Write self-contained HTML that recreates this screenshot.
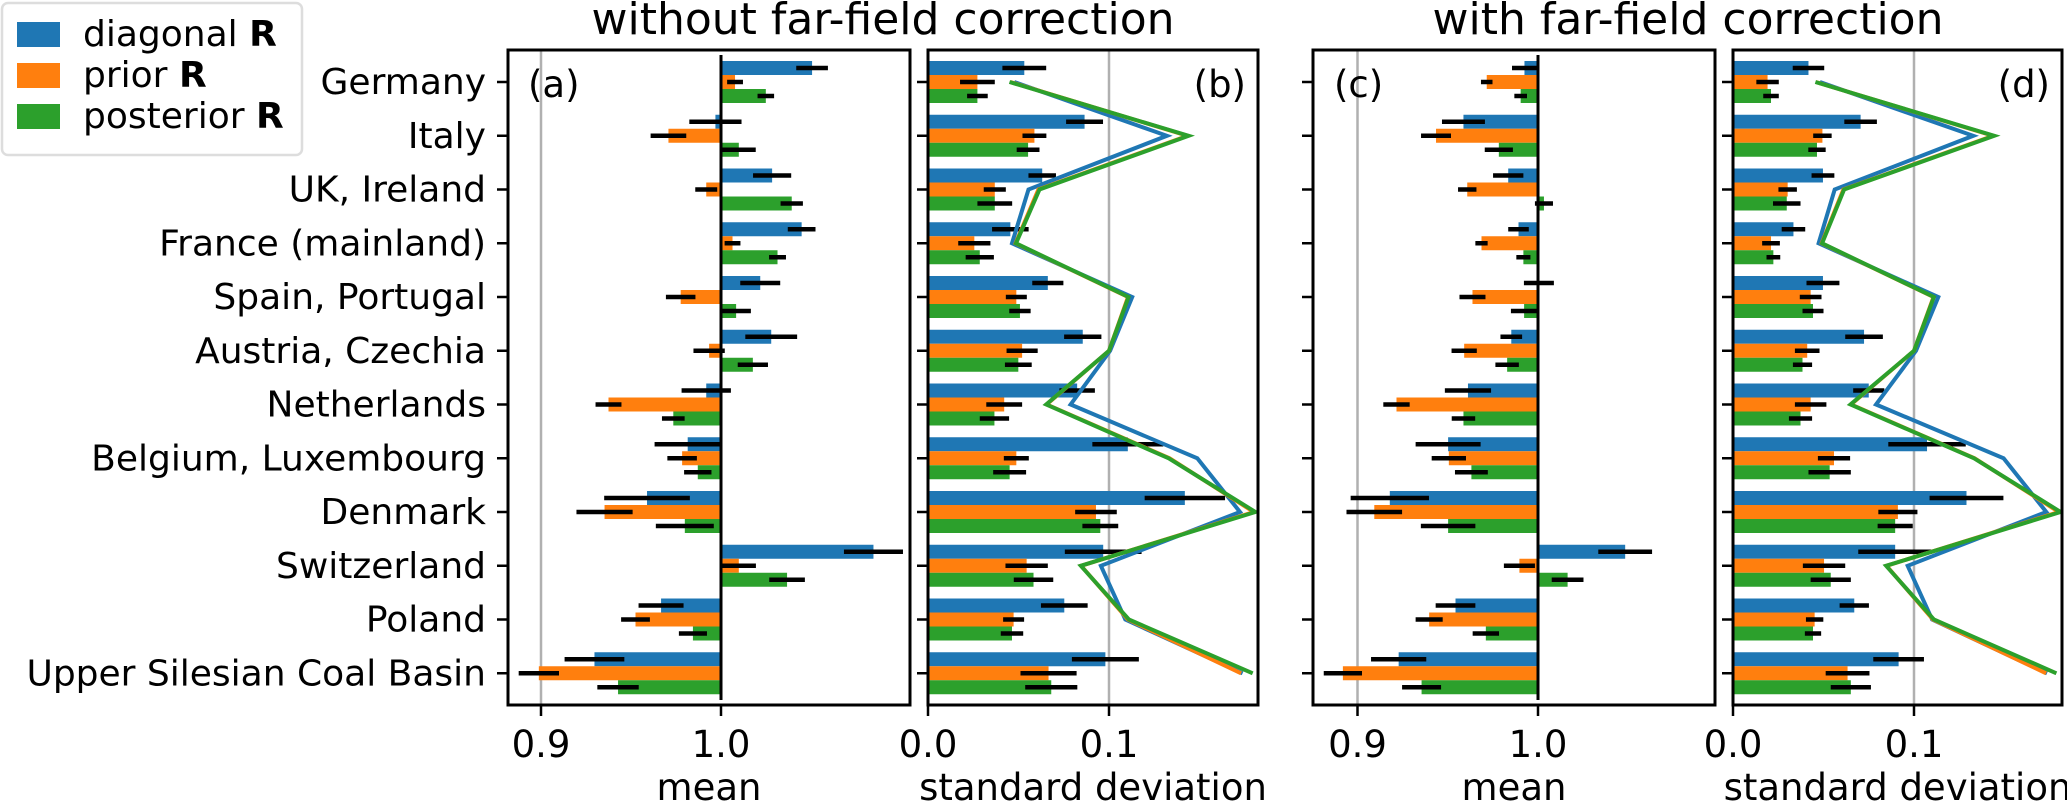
<!DOCTYPE html>
<html><head><meta charset="utf-8">
<style>
html,body{margin:0;padding:0;background:#fff;}
svg{display:block;}
text{font-family:"DejaVu Sans","Liberation Sans",sans-serif;fill:#000;}
</style></head>
<body>
<svg id="chart" width="2067" height="808" viewBox="0 0 2067 808" xmlns="http://www.w3.org/2000/svg">
<g>
<rect x="2" y="3" width="300" height="152" rx="6" fill="#fff" stroke="#ddd" stroke-width="2.5"/>
<rect x="17" y="22" width="43" height="25" fill="#1f77b4"/>
<text x="83" y="46" font-size="36">diagonal <tspan font-weight="bold">R</tspan></text>
<rect x="17" y="63" width="43" height="25" fill="#ff7f0e"/>
<text x="83" y="87" font-size="36">prior <tspan font-weight="bold">R</tspan></text>
<rect x="17" y="104" width="43" height="25" fill="#2ca02c"/>
<text x="83" y="128" font-size="36">posterior <tspan font-weight="bold">R</tspan></text>
</g>
<text x="883" y="34" font-size="44" text-anchor="middle">without far-field correction</text>
<text x="1688" y="34" font-size="44" text-anchor="middle">with far-field correction</text>
</svg>
<script>
const categories = ["Germany","Italy","UK, Ireland","France (mainland)","Spain, Portugal","Austria, Czechia","Netherlands","Belgium, Luxembourg","Denmark","Switzerland","Poland","Upper Silesian Coal Basin"];

const meanA_diag = [1.0506,0.9969,1.0284,1.0448,1.0218,1.0279,0.9918,0.9815,0.9589,1.0847,0.9667,0.9297];
const errA_diag = [0.0088,0.0145,0.0106,0.0077,0.0111,0.0144,0.0137,0.0184,0.0238,0.0164,0.0125,0.0166];
const meanA_prior = [1.0078,0.9708,0.9918,1.0064,0.9776,0.9934,0.9375,0.9784,0.9353,1.0099,0.9525,0.8988];
const errA_prior = [0.0044,0.0099,0.0061,0.0044,0.0082,0.0087,0.0072,0.0082,0.0156,0.0095,0.008,0.0112];
const meanA_post = [1.0249,1.0099,1.0393,1.0314,1.0084,1.0177,0.9735,0.9871,0.9799,1.0367,0.9844,0.9428];
const errA_post = [0.0046,0.0094,0.0062,0.0047,0.0082,0.0084,0.0063,0.0076,0.0161,0.0099,0.0078,0.0115];

const sdB_diag = [0.0532,0.0865,0.0631,0.0455,0.0662,0.0855,0.0824,0.1104,0.1419,0.0968,0.0753,0.098];
const errB_diag = [0.0121,0.0102,0.0076,0.0101,0.0086,0.0103,0.0098,0.0196,0.0222,0.0212,0.0129,0.0185];
const sdB_prior = [0.0273,0.0588,0.0369,0.0256,0.0488,0.052,0.0421,0.0488,0.0928,0.0545,0.0473,0.0666];
const errB_prior = [0.0096,0.0066,0.0061,0.0089,0.0058,0.0086,0.0099,0.0069,0.0115,0.0117,0.0058,0.0155];
const sdB_post = [0.0273,0.0553,0.0369,0.0286,0.0508,0.0499,0.0367,0.0451,0.0952,0.0583,0.0464,0.0681];
const errB_post = [0.0057,0.0063,0.0096,0.0078,0.0059,0.0074,0.0081,0.0091,0.0099,0.0109,0.0062,0.0144];
const lineB_diag = [0.0477,0.132,0.0555,0.0464,0.1128,0.1006,0.0788,0.1488,0.1724,0.0955,0.109,0.1738];
const lineB_prior = [0.0455,0.1435,0.061,0.0484,0.1105,0.1,0.0655,0.1335,0.18,0.0846,0.1105,0.173];
const lineB_post = [0.045,0.144,0.0616,0.0486,0.1108,0.1,0.0653,0.133,0.1809,0.0844,0.111,0.1794];

const meanC_diag = [0.9925,0.9587,0.9835,0.9892,1.0005,0.9852,0.9612,0.9502,0.9179,1.0483,0.9543,0.9228];
const errC_diag = [0.0069,0.0119,0.0084,0.0057,0.0083,0.006,0.0128,0.018,0.0217,0.0149,0.011,0.0153];
const meanC_prior = [0.9716,0.9435,0.9608,0.9687,0.9637,0.9591,0.9216,0.9506,0.9093,0.9897,0.9397,0.8919];
const errC_prior = [0.0032,0.0083,0.0051,0.0034,0.0072,0.007,0.0073,0.0095,0.0154,0.0086,0.0075,0.0106];
const meanC_post = [0.9904,0.9783,1.0033,0.9919,0.9923,0.9829,0.9587,0.9631,0.9502,1.0164,0.9711,0.9355];
const errC_post = [0.0035,0.0078,0.005,0.0039,0.0073,0.0065,0.0065,0.0091,0.0151,0.0088,0.0073,0.0108];

const sdD_diag = [0.0417,0.0705,0.0497,0.0334,0.0497,0.0724,0.075,0.1072,0.129,0.0896,0.067,0.0915];
const errD_diag = [0.0087,0.009,0.0063,0.0065,0.0091,0.0104,0.0086,0.0214,0.0204,0.0204,0.0081,0.014];
const sdD_prior = [0.0191,0.0494,0.0302,0.021,0.0429,0.041,0.0429,0.0558,0.0911,0.0503,0.0451,0.0633];
const errD_prior = [0.0062,0.0051,0.0051,0.0049,0.006,0.0068,0.0087,0.0089,0.0108,0.0117,0.0048,0.0121];
const sdD_post = [0.021,0.0464,0.0297,0.0223,0.0442,0.0384,0.0373,0.0534,0.0896,0.054,0.0442,0.0651];
const errD_post = [0.0043,0.0048,0.0076,0.0038,0.0058,0.0053,0.0064,0.0117,0.0097,0.0111,0.0045,0.0111];
const lineD_diag = [0.048,0.1327,0.0562,0.0473,0.1134,0.1011,0.079,0.1495,0.1731,0.0965,0.11,0.1735];
const lineD_prior = [0.0457,0.1438,0.061,0.049,0.1108,0.1,0.0652,0.1335,0.18,0.0848,0.1105,0.173];
const lineD_post = [0.0455,0.1443,0.0614,0.0492,0.111,0.1,0.0649,0.1332,0.181,0.0846,0.111,0.1787];

const ticksMean = [0.9, 1.0];
const ticksMeanLabels = ["0.9", "1.0"];
const ticksSd = [0.0, 0.1];
const ticksSdLabels = ["0.0", "0.1"];

const NS = "http://www.w3.org/2000/svg";
const svg = document.getElementById("chart");
const COLORS = ["#1f77b4", "#ff7f0e", "#2ca02c"];
const SERIES = ["diagonal", "prior", "posterior"];
const TOP = 50, BOTTOM = 705;
function yRow(i) { return 82 + i * 53.75; }

function mk(tag, attrs, parent) {
  const el = document.createElementNS(NS, tag);
  for (const k in attrs) el.setAttribute(k, attrs[k]);
  (parent || svg).appendChild(el);
  return el;
}

function panel(cfg) {
  const g = mk("g", {});
  
  
  const xs = v => cfg.x0 + (v - cfg.v0) * cfg.scale;
  const clipId = "clip-" + cfg.id;
  const cp = mk("clipPath", { id: clipId }, g);
  mk("rect", { x: cfg.left, y: TOP, width: cfg.right - cfg.left, height: BOTTOM - TOP }, cp);
  const inner = mk("g", { "clip-path": "url(#" + clipId + ")" }, g);
  const gl = mk("line", { x1: xs(cfg.grid), x2: xs(cfg.grid), y1: TOP, y2: BOTTOM, stroke: "#b0b0b0", "stroke-width": 2.5 }, inner);
  
  
  const base = xs(cfg.base);
  cfg.vals.forEach((arr, s) => {
    arr.forEach((v, i) => {
      const c = yRow(i);
      const y = c - 21 + s * 14;
      const xv = xs(v);
      const r = mk("rect", { x: Math.min(base, xv), y: y, width: Math.abs(xv - base), height: 14, fill: COLORS[s] }, inner);
      
      
    });
  });
  cfg.vals.forEach((arr, s) => {
    arr.forEach((v, i) => {
      const c = yRow(i);
      const y = c - 14 + s * 14;
      const e = cfg.errs[s][i];
      const l = mk("line", { x1: xs(v - e), x2: xs(v + e), y1: y, y2: y, stroke: "#000", "stroke-width": 4.5 }, inner);
      
      
    });
  });
  if (cfg.lines) {
    cfg.lines.forEach((arr, s) => {
      const pts = arr.map((v, i) => xs(v).toFixed(1) + "," + yRow(i).toFixed(1)).join(" ");
      const pl = mk("polyline", { points: pts, fill: "none", stroke: COLORS[s], "stroke-width": 4, "stroke-linejoin": "miter" }, inner);
      
      
    });
  }
  if (cfg.zero) {
    const zl = mk("line", { x1: base, x2: base, y1: 55, y2: 700, stroke: "#000", "stroke-width": 3 }, g);
    
    
  }
  const fr = mk("rect", { x: cfg.left, y: TOP, width: cfg.right - cfg.left, height: BOTTOM - TOP, fill: "none", stroke: "#000", "stroke-width": 3 }, g);
  
  
  categories.forEach((name, i) => {
    const t = mk("line", { x1: cfg.left - 11, x2: cfg.left, y1: yRow(i), y2: yRow(i), stroke: "#000", "stroke-width": 2.5 }, g);
    
    
    if (cfg.labels) {
      const tx = mk("text", { x: cfg.left - 22, y: yRow(i) + 12, "font-size": 36, "text-anchor": "end" }, g);
      tx.textContent = name;
      
      
    }
  });
  cfg.ticks.forEach((v, k) => {
    const t = mk("line", { x1: xs(v), x2: xs(v), y1: BOTTOM, y2: BOTTOM + 11, stroke: "#000", "stroke-width": 2.5 }, g);
    
    
    const tx = mk("text", { x: xs(v), y: 757, "font-size": 37, "text-anchor": "middle" }, g);
    tx.textContent = cfg.tickLabels[k];
    
    
  });
  const xl = mk("text", { x: (cfg.left + cfg.right) / 2, y: 800, "font-size": 37, "text-anchor": "middle" }, g);
  xl.textContent = cfg.xlabel;
  
  
  const pl = mk("text", { x: cfg.tagX, y: 97, "font-size": 37, "text-anchor": cfg.tagAnchor }, g);
  pl.textContent = "(" + cfg.id + ")";
  
  
}

panel({ id: "a", left: 508, right: 910, x0: 541, v0: 0.9, scale: 1800, base: 1.0, grid: 0.9, zero: true, labels: true,
  vals: [meanA_diag, meanA_prior, meanA_post], errs: [errA_diag, errA_prior, errA_post],
  ticks: ticksMean, tickLabels: ticksMeanLabels, xlabel: "mean", tagX: 528, tagAnchor: "start" });
panel({ id: "b", left: 928, right: 1258, x0: 928, v0: 0, scale: 1810, base: 0, grid: 0.1, zero: false, labels: false,
  vals: [sdB_diag, sdB_prior, sdB_post], errs: [errB_diag, errB_prior, errB_post], lines: [lineB_diag, lineB_prior, lineB_post],
  ticks: ticksSd, tickLabels: ticksSdLabels, xlabel: "standard deviation", tagX: 1246, tagAnchor: "end" });
panel({ id: "c", left: 1313, right: 1715, x0: 1357.5, v0: 0.9, scale: 1805, base: 1.0, grid: 0.9, zero: true, labels: false,
  vals: [meanC_diag, meanC_prior, meanC_post], errs: [errC_diag, errC_prior, errC_post],
  ticks: ticksMean, tickLabels: ticksMeanLabels, xlabel: "mean", tagX: 1334, tagAnchor: "start" });
panel({ id: "d", left: 1733, right: 2062, x0: 1733, v0: 0, scale: 1810, base: 0, grid: 0.1, zero: false, labels: false,
  vals: [sdD_diag, sdD_prior, sdD_post], errs: [errD_diag, errD_prior, errD_post], lines: [lineD_diag, lineD_prior, lineD_post],
  ticks: ticksSd, tickLabels: ticksSdLabels, xlabel: "standard deviation", tagX: 2050, tagAnchor: "end" });
</script>
</body></html>
